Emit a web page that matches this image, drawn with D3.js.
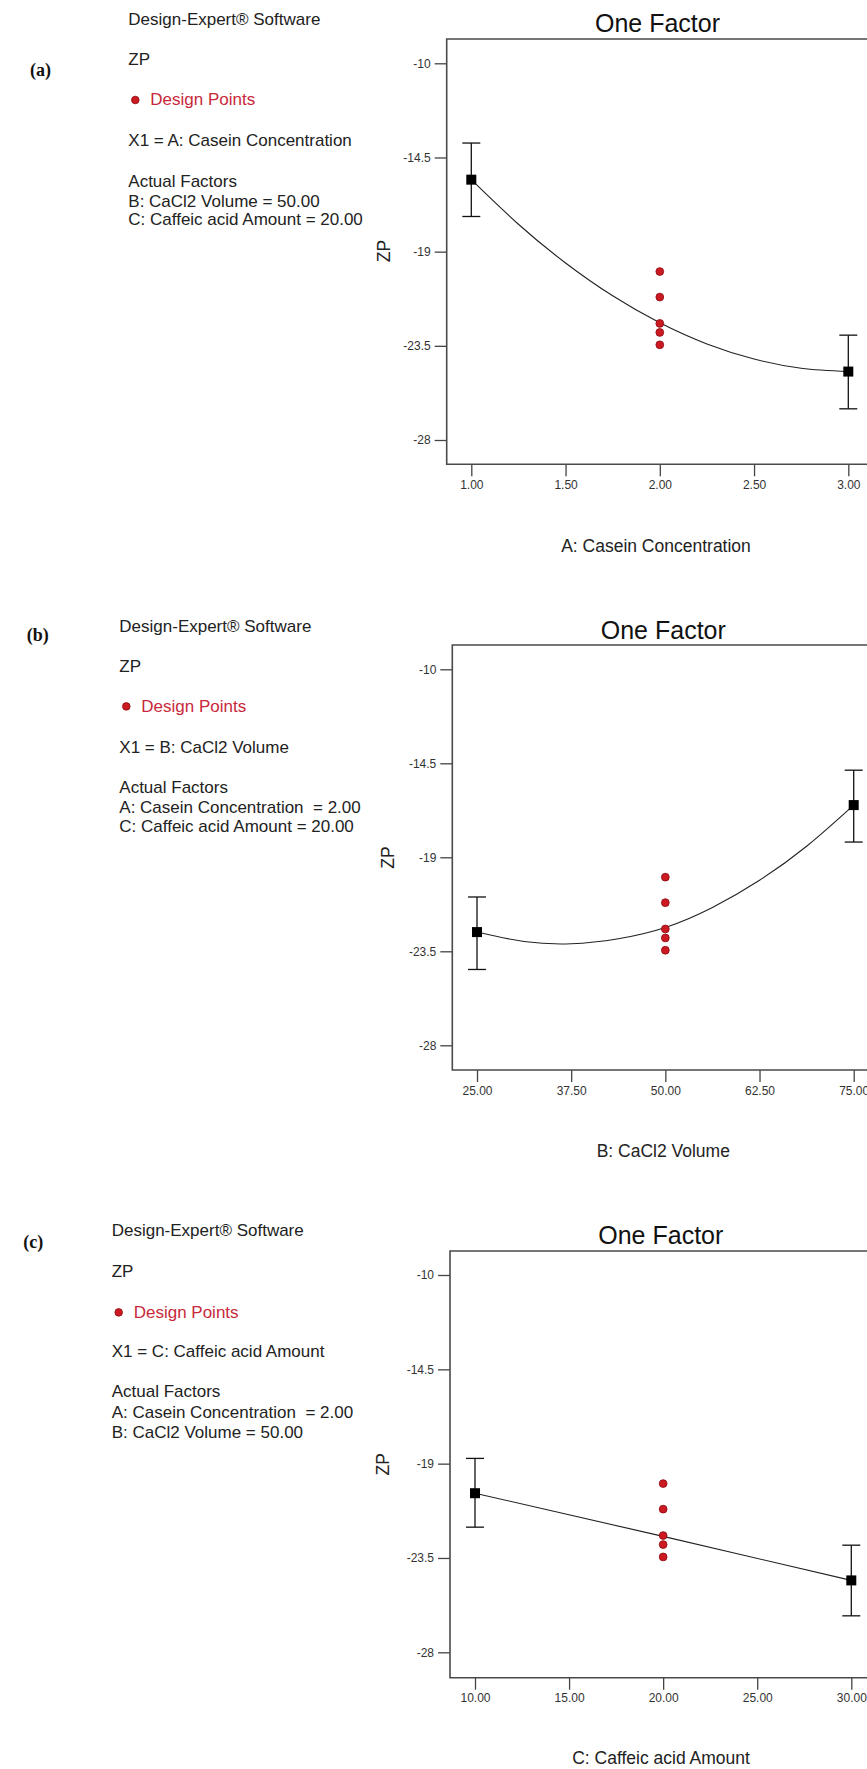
<!DOCTYPE html>
<html>
<head>
<meta charset="utf-8">
<script src="https://cdn.jsdelivr.net/npm/d3@7"></script>
<style>
html,body{margin:0;padding:0;background:#fff;}
svg{display:block;}
text{white-space:pre;}
</style>
</head>
<body>
<svg id="chart" width="867" height="1769"></svg>
<script>
// ---------------- DATA ----------------
const panelTags = ["(a)", "(b)", "(c)"];
const softwareLabel = "Design-Expert® Software";
const responseName = "ZP";
const legendLabel = "Design Points";
const chartTitle = "One Factor";
const factorNames = ["A: Casein Concentration", "B: CaCl2 Volume", "C: Caffeic acid Amount"];
const x1Labels = ["X1 = A: Casein Concentration", "X1 = B: CaCl2 Volume", "X1 = C: Caffeic acid Amount"];
const actualFactorsA = ["B: CaCl2 Volume = 50.00", "C: Caffeic acid Amount = 20.00"];
const actualFactorsB = ["A: Casein Concentration  = 2.00", "C: Caffeic acid Amount = 20.00"];
const actualFactorsC = ["A: Casein Concentration  = 2.00", "B: CaCl2 Volume = 50.00"];

const yTicks = [-10, -14.5, -19, -23.5, -28];
const xTicksA = [1.00, 1.50, 2.00, 2.50, 3.00];
const xTicksB = [25.00, 37.50, 50.00, 62.50, 75.00];
const xTicksC = [10.00, 15.00, 20.00, 25.00, 30.00];

// design points (center runs)
const designZP = [-19.95, -21.17, -22.43, -22.86, -23.45];
const designXA = 2.00, designXB = 50.00, designXC = 20.00;

// model prediction curves
const curveXA = [1.00, 1.25, 1.50, 1.75, 2.00, 2.25, 2.50, 2.75, 3.00];
const curveZPA = [-15.56, -17.69, -19.54, -21.11, -22.40, -23.41, -24.13, -24.57, -24.73];
const curveXB = [25.00, 31.25, 37.50, 43.75, 50.00, 56.25, 62.50, 68.75, 75.00];
const curveZPB = [-22.58, -23.03, -23.14, -22.90, -22.36, -21.40, -20.10, -18.47, -16.50];
const curveXC = [10.00, 20.00, 30.00];
const curveZPC = [-20.41, -22.47, -24.57];

// end-point predictions with confidence bars
const endXA = [1.00, 3.00], endZPA = [-15.56, -24.73], endLowA = [-17.32, -26.51], endHighA = [-13.81, -22.99];
const endXB = [25.00, 75.00], endZPB = [-22.58, -16.50], endLowB = [-24.37, -18.27], endHighB = [-20.90, -14.83];
const endXC = [10.00, 30.00], endZPC = [-20.41, -24.57], endLowC = [-22.03, -26.26], endHighC = [-18.75, -22.89];

// ---------------- LAYOUT ----------------
const layout = [
  {frameL:446.7, frameT:39, frameB:464.3, y10:63.3, y28:440, xr:[471.3,848.3], title:[657.5,32], xlab:[656,551.7], ylab:[384,251], tag:[30,76], textX:128.3, lines:[25,65,105.3,145.7,186.7,206.7,225]},
  {frameL:452.3, frameT:645, frameB:1070, y10:669.3, y28:1045.3, xr:[477,853.7], title:[663.3,639.3], xlab:[663.3,1156.7], ylab:[388,857.5], tag:[26.7,641], textX:119.3, lines:[631.7,671.7,711.7,752.7,793.3,812.7,832.3]},
  {frameL:450, frameT:1251, frameB:1677.7, y10:1275, y28:1652.3, xr:[475,851.3], title:[660.8,1244.3], xlab:[661,1764], ylab:[383,1464.3], tag:[23.3,1248], textX:111.7, lines:[1235.7,1277.3,1317.7,1356.7,1397.3,1418.3,1438.3]}
];

const panels = [
  {xTicks:xTicksA, designX:designXA, curveX:curveXA, curveY:curveZPA, endX:endXA, endY:endZPA, endLow:endLowA, endHigh:endHighA, actual:actualFactorsA, curve:d3.curveNatural},
  {xTicks:xTicksB, designX:designXB, curveX:curveXB, curveY:curveZPB, endX:endXB, endY:endZPB, endLow:endLowB, endHigh:endHighB, actual:actualFactorsB, curve:d3.curveNatural},
  {xTicks:xTicksC, designX:designXC, curveX:curveXC, curveY:curveZPC, endX:endXC, endY:endZPC, endLow:endLowC, endHigh:endHighC, actual:actualFactorsC, curve:d3.curveLinear}
];

const FONT = "'Liberation Sans', Arial, sans-serif";
const RED = "#cc1a22";
const FRAME_RIGHT = 900;
const svg = d3.select("#chart");

panels.forEach((p, i) => {
  const L = layout[i];
  const g = svg.append("g");

  // --- left info block ---
  g.append("text").attr("x", L.tag[0]).attr("y", L.tag[1])
    .attr("font-family", "'Liberation Serif', 'Times New Roman', serif")
    .attr("font-weight", "bold").attr("font-size", 18).attr("fill", "#111")
    .text(panelTags[i]);

  const info = g.append("g").attr("font-family", FONT).attr("font-size", 17).attr("fill", "#222");
  info.append("text").attr("x", L.textX).attr("y", L.lines[0]).text(softwareLabel);
  info.append("text").attr("x", L.textX).attr("y", L.lines[1]).text(responseName);
  info.append("circle").attr("cx", L.textX + 7).attr("cy", L.lines[2] - 5.3).attr("r", 3.8)
    .attr("fill", RED).attr("stroke", "#8a0a10").attr("stroke-width", 0.8);
  info.append("text").attr("x", L.textX + 22).attr("y", L.lines[2]).attr("fill", "#c8283a").text(legendLabel);
  info.append("text").attr("x", L.textX).attr("y", L.lines[3]).text(x1Labels[i]);
  info.append("text").attr("x", L.textX).attr("y", L.lines[4]).text("Actual Factors");
  info.append("text").attr("x", L.textX).attr("y", L.lines[5]).text(p.actual[0]);
  info.append("text").attr("x", L.textX).attr("y", L.lines[6]).text(p.actual[1]);

  // --- scales ---
  const x = d3.scaleLinear().domain([p.xTicks[0], p.xTicks[p.xTicks.length - 1]]).range(L.xr);
  const y = d3.scaleLinear().domain([-10, -28]).range([L.y10, L.y28]);

  // title
  g.append("text").attr("x", L.title[0]).attr("y", L.title[1]).attr("text-anchor", "middle")
    .attr("font-family", FONT).attr("font-size", 25).attr("fill", "#111").text(chartTitle);

  // axes
  const yAxis = g.append("g").attr("transform", `translate(${L.frameL},0)`)
    .call(d3.axisLeft(y).tickValues(yTicks).tickSize(12).tickPadding(4).tickFormat(d => String(d)));
  const xAxis = g.append("g").attr("transform", `translate(0,${L.frameB})`)
    .call(d3.axisBottom(x).tickValues(p.xTicks).tickSize(12).tickPadding(4).tickFormat(d3.format(".2f")));
  [yAxis, xAxis].forEach(ax => {
    ax.select(".domain").remove();
    ax.selectAll(".tick line").attr("stroke", "#444").attr("stroke-width", 1.3);
    ax.selectAll(".tick text").attr("font-family", FONT).attr("font-size", 12).attr("fill", "#333");
  });

  // frame (right side runs beyond the canvas, as in the reference)
  g.append("path")
    .attr("d", `M${FRAME_RIGHT},${L.frameT}H${L.frameL}V${L.frameB}H${FRAME_RIGHT}`)
    .attr("fill", "none").attr("stroke", "#4a4a4a").attr("stroke-width", 1.6);

  // axis labels
  g.append("text").attr("x", L.xlab[0]).attr("y", L.xlab[1]).attr("text-anchor", "middle")
    .attr("font-family", FONT).attr("font-size", 17.5).attr("fill", "#222").text(factorNames[i]);
  g.append("text").attr("transform", `translate(${L.ylab[0] + 6},${L.ylab[1]}) rotate(-90)`)
    .attr("text-anchor", "middle").attr("font-family", FONT).attr("font-size", 17.5).attr("fill", "#222")
    .text(responseName);

  // model curve
  const line = d3.line().x(d => x(d[0])).y(d => y(d[1])).curve(p.curve);
  g.append("path").datum(p.curveX.map((v, k) => [v, p.curveY[k]]))
    .attr("d", line).attr("fill", "none").attr("stroke", "#222").attr("stroke-width", 1.1);

  // confidence bars
  const ends = p.endX.map((v, k) => ({x: v, y: p.endY[k], lo: p.endLow[k], hi: p.endHigh[k]}));
  const eb = g.selectAll(".eb").data(ends).enter().append("g");
  eb.append("line").attr("x1", d => x(d.x)).attr("x2", d => x(d.x)).attr("y1", d => y(d.hi)).attr("y2", d => y(d.lo))
    .attr("stroke", "#111").attr("stroke-width", 1.3);
  eb.append("line").attr("x1", d => x(d.x) - 9).attr("x2", d => x(d.x) + 9).attr("y1", d => y(d.hi)).attr("y2", d => y(d.hi))
    .attr("stroke", "#111").attr("stroke-width", 1.3);
  eb.append("line").attr("x1", d => x(d.x) - 9).attr("x2", d => x(d.x) + 9).attr("y1", d => y(d.lo)).attr("y2", d => y(d.lo))
    .attr("stroke", "#111").attr("stroke-width", 1.3);
  eb.append("rect").attr("x", d => x(d.x) - 5).attr("y", d => y(d.y) - 5).attr("width", 10).attr("height", 10)
    .attr("fill", "#000");

  // design points
  g.selectAll(".dp").data(designZP).enter().append("circle")
    .attr("cx", x(p.designX)).attr("cy", d => y(d)).attr("r", 3.9)
    .attr("fill", RED).attr("stroke", "#8a0a10").attr("stroke-width", 0.8);
});
</script>
</body>
</html>
